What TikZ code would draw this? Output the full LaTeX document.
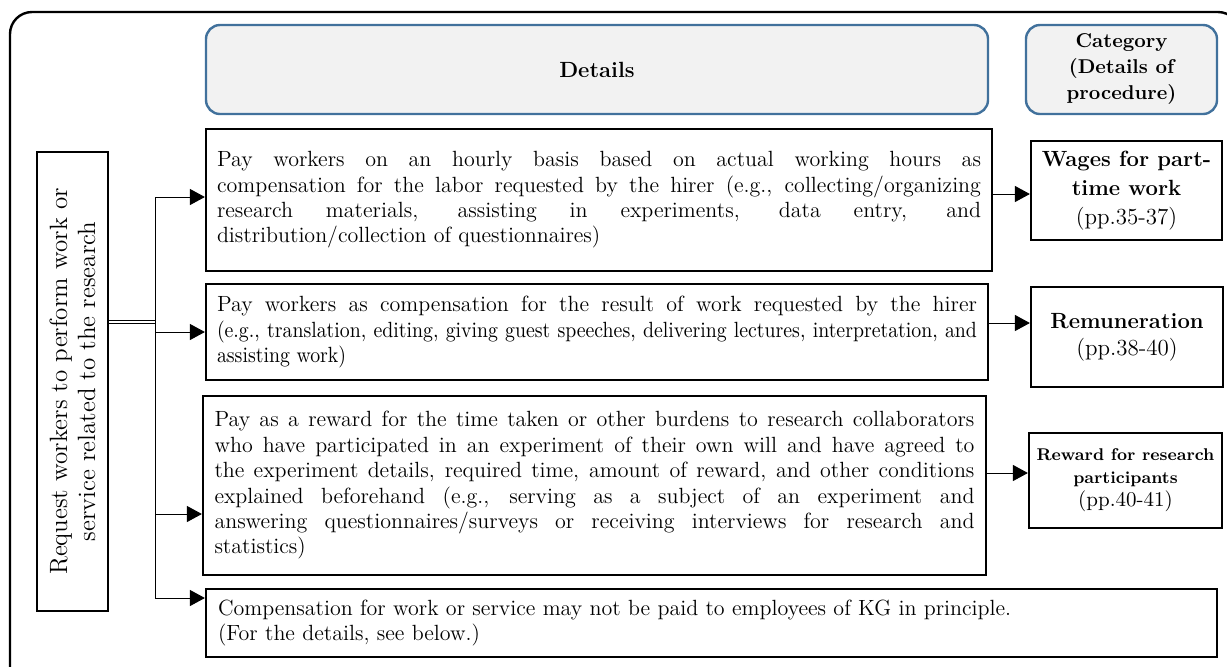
\documentclass[tikz,border=0pt]{standalone}
\usepackage{fontspec}
\usepackage{tikz}
\usetikzlibrary{arrows.meta}
\newfontfamily\narrowfont[FakeStretch=0.9]{Latin Modern Roman}
\definecolor{headblue}{HTML}{41719C}
\definecolor{headgray}{HTML}{F2F2F2}

\begin{document}
\begin{tikzpicture}[x=0.5pt,y=-0.5pt,
        box/.style={draw,line width=1.1pt,inner sep=0pt},
        detail/.style={box,align=justify,font=\fontsize{11}{12.7}\selectfont},
        head/.style={draw=headblue,fill=headgray,line width=1.2pt,rounded corners=7pt,inner sep=0pt,align=center},
        cat/.style={box,align=center},
        arr/.style={-{Triangle[length=7.5pt,width=8pt]},line width=0.5pt}]
        \useasboundingbox (0,0) rectangle (1227,666);
        \clip (0,0) rectangle (1227,666);
        \draw[line width=1.2pt,rounded corners=11pt] (10,12) rectangle (1240,690);

        % headers
        \node[head,minimum width=391pt,minimum height=44.5pt,font=\fontsize{11}{13}\selectfont\bfseries] (dethead) at (597,69.5) {Details};
        \node[head,minimum width=95.5pt,minimum height=44.5pt,font=\fontsize{10}{13}\selectfont\bfseries] (cathead) at (1121.5,69.5) {Category\\(Details of\\procedure)};

        % left box
        \node[box,rotate=90,minimum width=229.5pt,minimum height=35.5pt,align=center,font=\fontsize{12.5}{14}\selectfont] (req) at (72.5,381.5) {Request workers to perform work or\\service related to the research};

        % details
        \node[detail,minimum width=393pt,minimum height=71pt,text width=382pt] (b1) at (599,200) {Pay workers on an hourly basis based on actual working hours as\linebreak compensation for the labor requested by the hirer (e.g., collecting/organizing\linebreak research materials, assisting in experiments, data entry, and\linebreak distribution/collection of questionnaires)};
        \node[detail,minimum width=391pt,minimum height=48pt,text width=380pt] (b2) at (597,332) {Pay workers as compensation for the result of work requested by the hirer\linebreak {\narrowfont (e.g., translation, editing, giving guest speeches, delivering lectures, interpretation, and\linebreak assisting work)}};
        \node[detail,minimum width=391.5pt,minimum height=89.5pt,text width=380pt] (b3) at (594.5,485.5) {Pay as a reward for the time taken or other burdens to research collaborators\linebreak who have participated in an experiment of their own will and have agreed to\linebreak the experiment details, required time, amount of reward, and other conditions\linebreak explained beforehand (e.g., serving as a subject of an experiment and\linebreak answering questionnaires/surveys or receiving interviews for research and\linebreak statistics)};
        \node[detail,align=left,minimum width=505.5pt,minimum height=34pt,text width=493.5pt] (b4) at (711.5,623) {Compensation for work or service may not be paid to employees of KG in principle.\\(For the details, see below.)};

        % categories
        \node[cat,minimum width=95.5pt,minimum height=49.5pt,font=\fontsize{11}{14.5}\selectfont] (wage) at (1126.5,190.5) {\textbf{Wages for part-}\\\textbf{time work}\\{\fontsize{11.5}{13}\selectfont(pp.35-37)}};
        \node[cat,minimum width=96pt,minimum height=50pt,font=\fontsize{11}{13.5}\selectfont] (remu) at (1127,337) {\textbf{Remuneration}\\{\fontsize{11.5}{13.5}\selectfont(pp.38-40)}};
        \node[cat,minimum width=96.5pt,minimum height=47.5pt,font=\fontsize{8.5}{11.5}\selectfont] (rewd) at (1125.5,480.5) {\textbf{Reward for research}\\\textbf{participants}\\{\fontsize{10.5}{11.5}\selectfont(pp.40-41)}};

        % tree
        \coordinate (fork) at (155,322);
        \coordinate (t1) at (155,197);
        \coordinate (t2) at (155,332);
        \coordinate (t3) at (155,514);
        \coordinate (t4) at (155,598);
        \draw[line width=0.5pt,double,double distance=1pt] (fork -| req.south) -- (fork);
        \draw[line width=0.5pt] (t1) -- (t4);
        \draw[arr] (t1) -- (t1 -| b1.west);
        \draw[arr] (t2) -- (t2 -| b2.west);
        \draw[arr] (t3) -- (t3 -| b3.west);
        \draw[arr] (t4) -- (t4 -| b4.west);

        % to categories
        \coordinate (c1) at (0,194);
        \coordinate (c2) at (0,323);
        \coordinate (c3) at (0,473);
        \draw[arr] (c1 -| b1.east) -- (c1 -| wage.west);
        \draw[arr] (c2 -| b2.east) -- (c2 -| remu.west);
        \draw[arr] (c3 -| b3.east) -- (c3 -| rewd.west);
\end{tikzpicture}
\end{document}
